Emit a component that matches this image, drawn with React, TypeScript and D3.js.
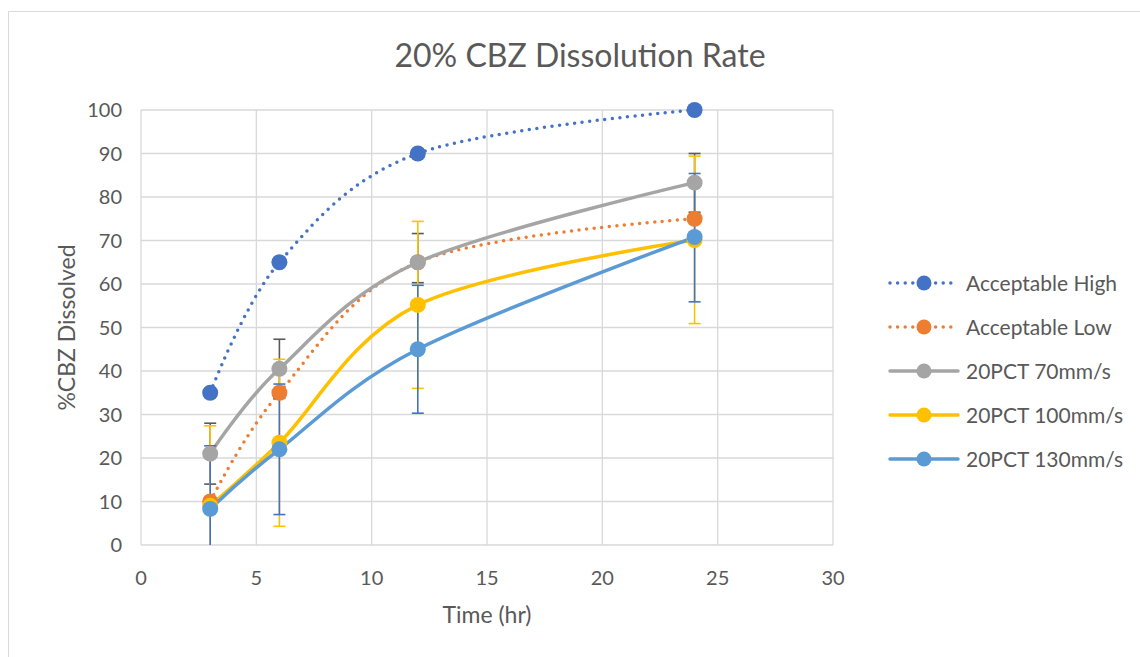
import React from "react";
import * as d3 from "d3";

const times = [3, 6, 12, 24];
const xTicks = [0, 5, 10, 15, 20, 25, 30];
const yTicks = [0, 10, 20, 30, 40, 50, 60, 70, 80, 90, 100];

const highValues = [35, 65, 90, 100];
const lowValues = [10, 35, 65, 75];
const v70 = [21, 40.5, 65, 83.3];
const v100 = [9, 23.5, 55.2, 70.1];
const v130 = [8.3, 22, 45, 70.8];

const err70Plus = [7, 6.8, 6.6, 6.7];
const err70Minus = [7, 6.8, 4.7, 6.8];
const err100Plus = [18.4, 19.2, 19.2, 19.3];
const err100Minus = [18.4, 19.2, 19.2, 19.2];
const err130Plus = [14.5, 15, 14.7, 14.6];
const err130Minus = [14.5, 15, 14.7, 14.9];

const seriesNames = [
  "Acceptable High",
  "Acceptable Low",
  "20PCT 70mm/s",
  "20PCT 100mm/s",
  "20PCT 130mm/s",
];
const seriesColors = ["#4472C4", "#ED7D31", "#A5A5A5", "#FFC000", "#5B9BD5"];
const errColors = [null, null, "#595959", "#FFC000", "#4472C4"];

type Series = {
  name: string;
  values: number[];
  color: string;
  dotted: boolean;
  errPlus?: number[];
  errMinus?: number[];
  errColor?: string | null;
};

const series: Series[] = [
  { name: seriesNames[0], values: highValues, color: seriesColors[0], dotted: true },
  { name: seriesNames[1], values: lowValues, color: seriesColors[1], dotted: true },
  { name: seriesNames[2], values: v70, color: seriesColors[2], dotted: false, errPlus: err70Plus, errMinus: err70Minus, errColor: errColors[2] },
  { name: seriesNames[3], values: v100, color: seriesColors[3], dotted: false, errPlus: err100Plus, errMinus: err100Minus, errColor: errColors[3] },
  { name: seriesNames[4], values: v130, color: seriesColors[4], dotted: false, errPlus: err130Plus, errMinus: err130Minus, errColor: errColors[4] },
];

const W = 1140;
const H = 657;
const left = 141;
const right = 833;
const top = 110;
const bottom = 545;
const FONT = "Lato, 'Open Sans', sans-serif";
const TEXT = "#595959";

export default function App() {
  const x = d3.scaleLinear().domain([0, 30]).range([left, right]);
  const y = d3.scaleLinear().domain([0, 100]).range([bottom, top]);
  const line = d3
    .line<[number, number]>()
    .x((d) => x(d[0]))
    .y((d) => y(d[1]))
    .curve(d3.curveCatmullRom.alpha(0));

  return (
    <svg
      width={W}
      height={H}
      style={{ position: "absolute", left: 0, top: 0, background: "#fff" }}
    >
      <rect x={0} y={0} width={W} height={H} fill="#fff" />
      <rect x={8.5} y={11.5} width={W + 20} height={H + 20} fill="#fff" stroke="#d9d9d9" strokeWidth={1} />
      <text x={580} y={67} textAnchor="middle" fontFamily={FONT} fontSize={32} fill={TEXT}>
        20% CBZ Dissolution Rate
      </text>
      <defs>
        <clipPath id="plotClip">
          <rect x={left} y={top - 20} width={right - left + 20} height={bottom - top + 20} />
        </clipPath>
      </defs>
      {/* gridlines */}
      {yTicks.map((t) => (
        <line key={"gy" + t} x1={left} x2={right} y1={y(t)} y2={y(t)} stroke="#d9d9d9" strokeWidth={1.3} />
      ))}
      {xTicks.map((t) => (
        <line key={"gx" + t} x1={x(t)} x2={x(t)} y1={top} y2={bottom} stroke="#d9d9d9" strokeWidth={1.3} />
      ))}
      {/* tick labels */}
      {yTicks.map((t) => (
        <text key={"ty" + t} x={122} y={y(t)} dy="0.36em" textAnchor="end" fontFamily={FONT} fontSize={20} fill={TEXT}>
          {t}
        </text>
      ))}
      {xTicks.map((t) => (
        <text key={"tx" + t} x={x(t)} y={585} textAnchor="middle" fontFamily={FONT} fontSize={20} fill={TEXT}>
          {t}
        </text>
      ))}
      <text x={487} y={623} textAnchor="middle" fontFamily={FONT} fontSize={23} fill={TEXT}>
        Time (hr)
      </text>
      <text
        transform={`translate(75,${(top + bottom) / 2}) rotate(-90)`}
        textAnchor="middle"
        fontFamily={FONT}
        fontSize={23}
        fill={TEXT}
      >
        %CBZ Dissolved
      </text>
      {/* lines */}
      {series.map((s) => (
        <path
          key={"l" + s.name}
          d={line(times.map((t, i) => [t, s.values[i]] as [number, number])) || ""}
          fill="none"
          stroke={s.color}
          strokeWidth={3.5}
          strokeLinecap="round"
          strokeDasharray={s.dotted ? "0 7.6" : undefined}
        />
      ))}
      {/* error bars */}
      <g clipPath="url(#plotClip)">
        {series.map((s) =>
          s.errPlus
            ? times.map((t, i) => {
                const hi = s.values[i] + s.errPlus![i];
                const lo = s.values[i] - s.errMinus![i];
                const cx = x(t);
                return (
                  <g key={"e" + s.name + t} stroke={s.errColor!} strokeWidth={1.6}>
                    <line x1={cx} x2={cx} y1={y(hi)} y2={Math.min(y(lo), bottom)} />
                    <line x1={cx - 6} x2={cx + 6} y1={y(hi)} y2={y(hi)} />
                    {lo >= 0 && <line x1={cx - 6} x2={cx + 6} y1={y(lo)} y2={y(lo)} />}
                  </g>
                );
              })
            : null
        )}
      </g>
      {/* markers */}
      {series.map((s) =>
        times.map((t, i) => (
          <circle key={"m" + s.name + t} cx={x(t)} cy={y(s.values[i])} r={8} fill={s.color} />
        ))
      )}
      {/* legend */}
      {series.map((s, i) => {
        const ly = 283 + i * 44;
        return (
          <g key={"lg" + s.name}>
            <line
              x1={890}
              x2={958}
              y1={ly}
              y2={ly}
              stroke={s.color}
              strokeWidth={3.5}
              strokeLinecap="round"
              strokeDasharray={s.dotted ? "0 7.6" : undefined}
            />
            <circle cx={924} cy={ly} r={7.5} fill={s.color} />
            <text x={966} y={ly} dy="0.36em" fontFamily={FONT} fontSize={21} fill={TEXT}>
              {s.name}
            </text>
          </g>
        );
      })}
    </svg>
  );
}
